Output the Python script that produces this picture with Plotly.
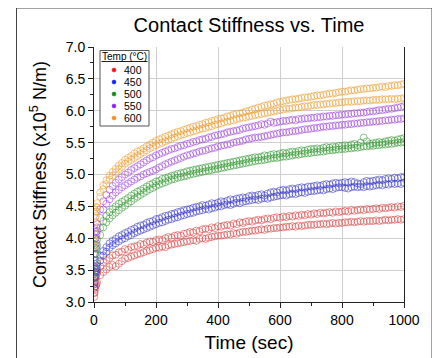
import plotly.graph_objects as go

# ---------------- data ----------------
TIME_EARLY = [1, 2, 4, 6, 8]
TIME_MAIN = list(range(10, 1001, 10))
TIME = TIME_EARLY + TIME_MAIN

TEMPS = ["400", "450", "500", "550", "600"]

S400_A = [3.15, 3.24, 3.33, 3.39, 3.43,
          3.47, 3.56, 3.62, 3.66, 3.69, 3.73, 3.74, 3.78, 3.79, 3.83,
          3.82, 3.86, 3.87, 3.88, 3.91, 3.90, 3.93, 3.95, 3.94, 3.97,
          3.98, 3.97, 4.00, 4.02, 4.01, 4.04, 4.05, 4.04, 4.07, 4.08,
          4.10, 4.09, 4.12, 4.11, 4.14, 4.15, 4.14, 4.17, 4.16, 4.19,
          4.18, 4.20, 4.21, 4.20, 4.23, 4.22, 4.25, 4.24, 4.26, 4.27,
          4.26, 4.28, 4.29, 4.28, 4.30, 4.31, 4.30, 4.32, 4.33, 4.32,
          4.34, 4.33, 4.35, 4.34, 4.36, 4.35, 4.37, 4.36, 4.38, 4.37,
          4.39, 4.38, 4.40, 4.39, 4.40, 4.41, 4.40, 4.42, 4.41, 4.42,
          4.43, 4.42, 4.44, 4.43, 4.44, 4.45, 4.44, 4.46, 4.45, 4.46,
          4.47, 4.46, 4.48, 4.47, 4.48, 4.49, 4.48, 4.50, 4.49, 4.51]
S400_B = [3.08, 3.14, 3.20, 3.25, 3.28,
          3.31, 3.42, 3.47, 3.51, 3.55, 3.58, 3.56, 3.60, 3.64, 3.68,
          3.69, 3.71, 3.73, 3.75, 3.76, 3.78, 3.80, 3.81, 3.83, 3.85,
          3.85, 3.87, 3.86, 3.89, 3.90, 3.91, 3.92, 3.93, 3.94, 3.95,
          3.96, 3.97, 3.96, 3.99, 4.00, 3.99, 4.01, 4.02, 4.03, 4.04,
          4.04, 4.05, 4.06, 4.06, 4.08, 4.07, 4.09, 4.10, 4.10, 4.11,
          4.12, 4.12, 4.13, 4.14, 4.13, 4.15, 4.15, 4.16, 4.16, 4.17,
          4.17, 4.18, 4.18, 4.19, 4.18, 4.20, 4.19, 4.20, 4.21, 4.21,
          4.21, 4.22, 4.22, 4.23, 4.22, 4.23, 4.24, 4.23, 4.24, 4.24,
          4.25, 4.25, 4.26, 4.25, 4.26, 4.27, 4.26, 4.27, 4.27, 4.27,
          4.28, 4.27, 4.28, 4.29, 4.28, 4.29, 4.29, 4.30, 4.29, 4.30]
S450_A = [3.28, 3.38, 3.47, 3.53, 3.57,
          3.61, 3.73, 3.80, 3.86, 3.92, 3.96, 3.99, 4.03, 4.05, 4.08,
          4.10, 4.13, 4.15, 4.18, 4.20, 4.21, 4.24, 4.26, 4.27, 4.30,
          4.31, 4.33, 4.35, 4.36, 4.38, 4.39, 4.41, 4.42, 4.44, 4.45,
          4.46, 4.48, 4.49, 4.50, 4.52, 4.51, 4.53, 4.55, 4.54, 4.56,
          4.58, 4.57, 4.59, 4.61, 4.60, 4.62, 4.63, 4.64, 4.63, 4.66,
          4.67, 4.66, 4.68, 4.69, 4.67, 4.70, 4.72, 4.73, 4.72, 4.75,
          4.76, 4.75, 4.77, 4.78, 4.77, 4.79, 4.80, 4.79, 4.81, 4.81,
          4.82, 4.83, 4.82, 4.84, 4.85, 4.84, 4.86, 4.87, 4.86, 4.87,
          4.88, 4.87, 4.89, 4.88, 4.86, 4.85, 4.88, 4.90, 4.89, 4.90,
          4.91, 4.92, 4.91, 4.93, 4.94, 4.93, 4.95, 4.94, 4.96, 4.96]
S450_B = [3.22, 3.31, 3.40, 3.46, 3.50,
          3.53, 3.65, 3.73, 3.79, 3.85, 3.89, 3.92, 3.95, 3.98, 4.00,
          4.03, 4.05, 4.08, 4.10, 4.12, 4.14, 4.16, 4.18, 4.20, 4.22,
          4.24, 4.25, 4.27, 4.29, 4.30, 4.32, 4.33, 4.35, 4.36, 4.38,
          4.39, 4.40, 4.42, 4.43, 4.44, 4.46, 4.45, 4.47, 4.48, 4.50,
          4.50, 4.52, 4.53, 4.52, 4.54, 4.56, 4.55, 4.57, 4.58, 4.59,
          4.60, 4.61, 4.60, 4.62, 4.63, 4.62, 4.64, 4.65, 4.66, 4.67,
          4.68, 4.67, 4.69, 4.70, 4.69, 4.71, 4.72, 4.71, 4.73, 4.74,
          4.74, 4.75, 4.76, 4.75, 4.77, 4.78, 4.77, 4.79, 4.80, 4.80,
          4.79, 4.78, 4.80, 4.81, 4.80, 4.81, 4.80, 4.82, 4.81, 4.82,
          4.83, 4.84, 4.83, 4.85, 4.84, 4.86, 4.85, 4.86, 4.85, 4.87]
S500_A = [3.45, 3.60, 3.75, 3.85, 3.92,
          3.98, 4.16, 4.27, 4.35, 4.41, 4.46, 4.50, 4.54, 4.57, 4.60,
          4.63, 4.67, 4.70, 4.73, 4.75, 4.78, 4.81, 4.84, 4.86, 4.89,
          4.90, 4.93, 4.94, 4.96, 4.98, 4.99, 5.01, 5.02, 5.03, 5.05,
          5.06, 5.07, 5.08, 5.09, 5.10, 5.11, 5.12, 5.13, 5.14, 5.15,
          5.16, 5.17, 5.18, 5.19, 5.20, 5.21, 5.22, 5.23, 5.24, 5.25,
          5.26, 5.27, 5.27, 5.28, 5.30, 5.29, 5.31, 5.32, 5.31, 5.33,
          5.34, 5.33, 5.35, 5.36, 5.35, 5.37, 5.38, 5.37, 5.39, 5.40,
          5.40, 5.41, 5.40, 5.42, 5.43, 5.42, 5.44, 5.43, 5.45, 5.45,
          5.46, 5.45, 5.47, 5.48, 5.46, 5.50, 5.58, 5.52, 5.48, 5.49,
          5.50, 5.51, 5.50, 5.52, 5.53, 5.54, 5.53, 5.55, 5.56, 5.57]
S500_B = [3.38, 3.52, 3.66, 3.76, 3.83,
          3.88, 4.05, 4.17, 4.25, 4.31, 4.36, 4.40, 4.44, 4.48, 4.51,
          4.55, 4.58, 4.62, 4.65, 4.68, 4.71, 4.74, 4.77, 4.79, 4.82,
          4.84, 4.86, 4.88, 4.90, 4.92, 4.93, 4.95, 4.96, 4.97, 4.98,
          5.00, 5.01, 5.02, 5.03, 5.04, 5.05, 5.06, 5.07, 5.08, 5.09,
          5.10, 5.11, 5.12, 5.13, 5.14, 5.15, 5.16, 5.17, 5.18, 5.19,
          5.20, 5.21, 5.22, 5.22, 5.23, 5.24, 5.25, 5.26, 5.26, 5.27,
          5.28, 5.28, 5.29, 5.30, 5.31, 5.31, 5.32, 5.33, 5.33, 5.34,
          5.35, 5.35, 5.36, 5.36, 5.37, 5.38, 5.38, 5.39, 5.39, 5.40,
          5.40, 5.41, 5.41, 5.42, 5.42, 5.43, 5.44, 5.44, 5.45, 5.45,
          5.46, 5.46, 5.47, 5.47, 5.48, 5.48, 5.49, 5.50, 5.50, 5.51]
S550_A = [3.65, 3.85, 4.00, 4.10, 4.17,
          4.22, 4.45, 4.58, 4.68, 4.76, 4.82, 4.87, 4.92, 4.96, 5.00,
          5.03, 5.07, 5.10, 5.13, 5.16, 5.19, 5.22, 5.25, 5.27, 5.30,
          5.32, 5.34, 5.36, 5.38, 5.40, 5.41, 5.43, 5.45, 5.46, 5.48,
          5.49, 5.51, 5.52, 5.54, 5.55, 5.56, 5.58, 5.59, 5.61, 5.62,
          5.63, 5.64, 5.66, 5.67, 5.68, 5.69, 5.70, 5.72, 5.73, 5.74,
          5.75, 5.76, 5.77, 5.79, 5.78, 5.80, 5.83, 5.81, 5.82, 5.83,
          5.84, 5.84, 5.85, 5.86, 5.85, 5.87, 5.87, 5.88, 5.88, 5.89,
          5.89, 5.90, 5.90, 5.91, 5.91, 5.92, 5.92, 5.93, 5.93, 5.94,
          5.94, 5.95, 5.95, 5.96, 5.96, 5.97, 5.97, 5.98, 5.99, 5.99,
          6.00, 6.01, 6.01, 6.02, 6.03, 6.03, 6.04, 6.05, 6.06, 6.07]
S550_B = [3.55, 3.75, 3.90, 4.00, 4.06,
          4.11, 4.32, 4.45, 4.54, 4.61, 4.67, 4.72, 4.76, 4.80, 4.83,
          4.86, 4.89, 4.92, 4.95, 4.97, 5.00, 5.02, 5.04, 5.06, 5.08,
          5.11, 5.13, 5.16, 5.18, 5.20, 5.22, 5.24, 5.26, 5.28, 5.30,
          5.31, 5.33, 5.34, 5.36, 5.37, 5.38, 5.40, 5.41, 5.42, 5.44,
          5.45, 5.46, 5.47, 5.48, 5.50, 5.51, 5.52, 5.53, 5.55, 5.56,
          5.57, 5.58, 5.58, 5.59, 5.60, 5.61, 5.62, 5.63, 5.64, 5.65,
          5.66, 5.66, 5.67, 5.68, 5.68, 5.69, 5.70, 5.71, 5.71, 5.72,
          5.73, 5.73, 5.74, 5.75, 5.75, 5.76, 5.76, 5.77, 5.77, 5.78,
          5.78, 5.79, 5.79, 5.80, 5.80, 5.81, 5.81, 5.82, 5.82, 5.83,
          5.83, 5.84, 5.84, 5.85, 5.85, 5.86, 5.86, 5.87, 5.87, 5.88]
S600_A = [3.95, 4.15, 4.32, 4.42, 4.49,
          4.55, 4.72, 4.83, 4.91, 4.98, 5.04, 5.09, 5.14, 5.18, 5.23,
          5.26, 5.29, 5.33, 5.36, 5.38, 5.41, 5.44, 5.47, 5.50, 5.53,
          5.55, 5.57, 5.59, 5.61, 5.63, 5.65, 5.67, 5.68, 5.70, 5.72,
          5.73, 5.75, 5.76, 5.78, 5.79, 5.81, 5.82, 5.84, 5.85, 5.87,
          5.88, 5.89, 5.91, 5.92, 5.94, 5.95, 5.96, 5.97, 5.99, 6.00,
          6.02, 6.03, 6.05, 6.06, 6.08, 6.09, 6.10, 6.11, 6.13, 6.14,
          6.15, 6.16, 6.17, 6.18, 6.18, 6.19, 6.20, 6.21, 6.21, 6.22,
          6.23, 6.24, 6.24, 6.25, 6.26, 6.27, 6.27, 6.28, 6.29, 6.30,
          6.30, 6.31, 6.32, 6.32, 6.33, 6.34, 6.34, 6.35, 6.35, 6.36,
          6.36, 6.37, 6.38, 6.37, 6.39, 6.39, 6.40, 6.40, 6.41, 6.42]
S600_B = [3.88, 4.08, 4.25, 4.35, 4.42,
          4.48, 4.65, 4.77, 4.85, 4.92, 4.98, 5.03, 5.08, 5.12, 5.17,
          5.20, 5.23, 5.26, 5.29, 5.32, 5.35, 5.38, 5.41, 5.43, 5.46,
          5.48, 5.50, 5.52, 5.54, 5.56, 5.58, 5.60, 5.62, 5.63, 5.65,
          5.66, 5.68, 5.69, 5.71, 5.72, 5.73, 5.75, 5.76, 5.78, 5.79,
          5.80, 5.82, 5.83, 5.84, 5.85, 5.87, 5.88, 5.89, 5.90, 5.91,
          5.92, 5.93, 5.94, 5.95, 5.96, 5.97, 5.98, 5.99, 6.00, 6.01,
          6.02, 6.03, 6.03, 6.04, 6.05, 6.05, 6.06, 6.07, 6.07, 6.08,
          6.09, 6.09, 6.10, 6.10, 6.11, 6.11, 6.12, 6.12, 6.13, 6.13,
          6.14, 6.14, 6.14, 6.15, 6.15, 6.15, 6.16, 6.16, 6.16, 6.17,
          6.17, 6.17, 6.18, 6.18, 6.18, 6.19, 6.18, 6.19, 6.19, 6.20]

SERIES = {
    "400": [S400_A, S400_B],
    "450": [S450_A, S450_B],
    "500": [S500_A, S500_B],
    "550": [S550_A, S550_B],
    "600": [S600_A, S600_B],
}

X_TICKS = [0, 200, 400, 600, 800, 1000]
Y_TICKS = [3.0, 3.5, 4.0, 4.5, 5.0, 5.5, 6.0, 6.5, 7.0]

# ---------------- style ----------------
# the page body has an 8px margin, so the figure starts at (8, 8) on screen
OFF = 8
W, H = 432, 350
PLOT_L, PLOT_R, PLOT_T, PLOT_B = 94, 404, 47, 302   # screen pixels
ML, MR = PLOT_L - OFF, W - (PLOT_R - OFF)
MT, MB = PLOT_T - OFF, H - (PLOT_B - OFF)
PW, PH = PLOT_R - PLOT_L, PLOT_B - PLOT_T
FONT = "Arial, Liberation Sans, sans-serif"

DATA_COLORS = {"400": "#D83A3A", "450": "#3434C8", "500": "#2E962E",
               "550": "#9A3CDC", "600": "#EA9A2A"}
LEGEND_COLORS = {"400": "#FF1010", "450": "#1020FF", "500": "#108A10",
                 "550": "#8A20FF", "600": "#FF8A20"}


def px(x):
    """screen x pixel -> paper coordinate"""
    return (x - PLOT_L) / PW


def py(y):
    """screen y pixel -> paper coordinate"""
    return (PLOT_B - y) / PH


fig = go.Figure()
for t in TEMPS:
    for s in SERIES[t]:
        fig.add_trace(go.Scatter(
            x=TIME[:len(s)], y=s, mode="markers", name=t + " °C",
            showlegend=False,
            marker=dict(symbol="circle-open", size=7, opacity=0.6,
                        color=DATA_COLORS[t], line=dict(width=0.9)),
        ))

shapes = []
annotations = []
# outer frame
shapes.append(dict(type="rect", xref="paper", yref="paper",
                   x0=px(16.5), x1=px(432), y0=py(400), y1=py(8),
                   line=dict(color="#444444", width=1), layer="above"))
# manual legend box
shapes.append(dict(type="rect", xref="paper", yref="paper",
                   x0=px(100), x1=px(149), y0=py(126), y1=py(50.5),
                   line=dict(color="#555555", width=1),
                   fillcolor="white", layer="above"))
annotations.append(dict(xref="paper", yref="paper", x=px(124.5), y=py(56.5),
                        text="Temp (°C)", showarrow=False,
                        font=dict(family=FONT, size=10, color="black"),
                        xanchor="center", yanchor="middle"))
shapes.append(dict(type="line", xref="paper", yref="paper",
                   x0=px(101.5), x1=px(147.5), y0=py(61.5), y1=py(61.5),
                   line=dict(color="#222222", width=1), layer="above"))
for i, t in enumerate(TEMPS):
    yc = 70 + 12 * i
    shapes.append(dict(type="circle", xref="paper", yref="paper",
                       x0=px(112), x1=px(116), y0=py(yc + 2), y1=py(yc - 2),
                       fillcolor=LEGEND_COLORS[t],
                       line=dict(color=LEGEND_COLORS[t], width=0.5),
                       layer="above"))
    annotations.append(dict(xref="paper", yref="paper", x=px(122), y=py(yc),
                            text=t, showarrow=False,
                            font=dict(family=FONT, size=10.5, color="black"),
                            xanchor="left", yanchor="middle"))

fig.update_layout(
    width=W, height=H,
    margin=dict(l=ML, r=MR, t=MT, b=MB, autoexpand=False),
    paper_bgcolor="white", plot_bgcolor="white",
    font=dict(family=FONT, color="black"),
    title=dict(text="Contact Stiffness vs. Time",
               x=((PLOT_L + PLOT_R) / 2 - OFF) / W,
               xanchor="center", y=1 - (25 - OFF) / H, yanchor="middle",
               font=dict(size=20, color="black", family=FONT)),
    shapes=shapes, annotations=annotations,
    showlegend=False,
)
fig.update_xaxes(
    range=[0, 1000], tickvals=X_TICKS, ticktext=[str(v) for v in X_TICKS],
    showline=True, linecolor="#222222", linewidth=1, mirror=False,
    ticks="outside", ticklen=5, tickcolor="#222222",
    minor=dict(dtick=100, tick0=0, ticks="outside", ticklen=3, tickcolor="#222222", showgrid=False),
    showgrid=True, gridcolor="#CFCFCF", gridwidth=1, zeroline=False,
    tickfont=dict(size=14, family=FONT, color="black"),
    title=dict(text="Time (sec)", standoff=8,
               font=dict(size=19, family=FONT, color="black")),
)
fig.update_yaxes(
    range=[3, 7], tickvals=Y_TICKS, ticktext=["%.1f" % v for v in Y_TICKS],
    showline=True, linecolor="#222222", linewidth=1, mirror=True,
    ticks="outside", ticklen=5, tickcolor="#222222",
    minor=dict(dtick=0.25, tick0=0, ticks="outside", ticklen=3, tickcolor="#222222", showgrid=False),
    showgrid=True, gridcolor="#CFCFCF", gridwidth=1, zeroline=False,
    tickfont=dict(size=14, family=FONT, color="black"),
    title=dict(text="Contact Stiffness (x10<sup>5</sup> N/m)", standoff=14,
               font=dict(size=18, family=FONT, color="black")),
)

fig.write_html("out.html")
